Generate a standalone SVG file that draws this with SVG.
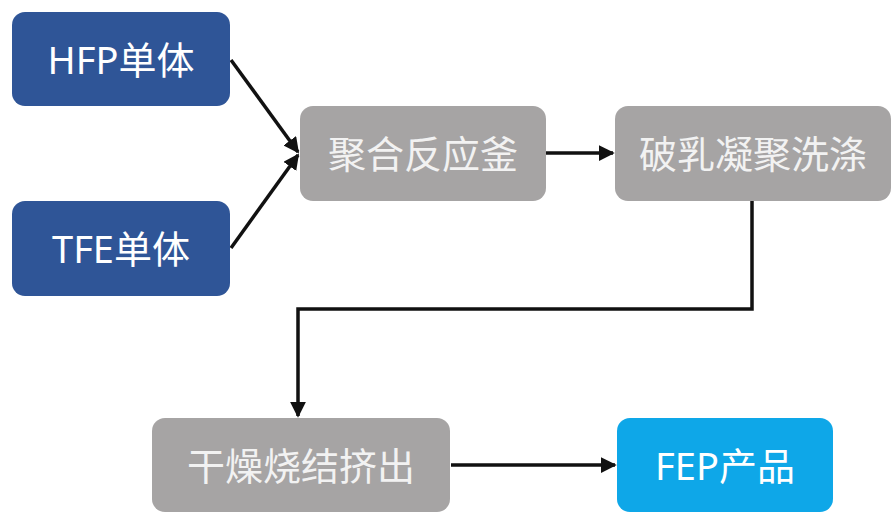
<svg xmlns="http://www.w3.org/2000/svg" width="894" height="514" viewBox="0 0 894 514">
<style>
.blue{fill:#2F5597}
.gray{fill:#A6A4A4}
.cyan{fill:#0EA7E8}
.t{font-family:"Noto Sans","Noto Sans CJK SC",sans-serif;font-size:38px;text-anchor:middle;dominant-baseline:central}
.tw{fill:#ffffff}
.tg{fill:#F2F2F2}
.c{stroke:#111;stroke-width:3.5;fill:none;marker-end:url(#ah)}
</style>
<defs>
<marker id="ah" markerWidth="4.5" markerHeight="4.5" refX="4" refY="2.25" orient="auto" markerUnits="strokeWidth">
<path d="M0,0 L4.5,2.25 L0,4.5 z" fill="#111"/>
</marker>
</defs>
<rect width="894" height="514" fill="#ffffff"/>
<g id="connectors">
<line class="c" x1="231" y1="60" x2="298" y2="152"/>
<line class="c" x1="231" y1="248" x2="298" y2="155"/>
<line class="c" x1="546" y1="153" x2="613" y2="153"/>
<polyline class="c" points="752,201 752,309 298,309 298,416"/>
<line class="c" x1="451" y1="465" x2="615" y2="465"/>
</g>
<g id="hfp">
<rect class="blue" x="12" y="12" width="218" height="94" rx="13"/>
<text class="t tw" x="121" y="59">HFP单体</text>
</g>
<g id="tfe">
<rect class="blue" x="12" y="201" width="218" height="95" rx="13"/>
<text class="t tw" x="121" y="248">TFE单体</text>
</g>
<g id="reactor">
<rect class="gray" x="300" y="106" width="246" height="95" rx="13"/>
<text class="t tg" x="423" y="153">聚合反应釜</text>
</g>
<g id="wash">
<rect class="gray" x="615" y="106" width="276" height="95" rx="13"/>
<text class="t tg" x="753" y="153">破乳凝聚洗涤</text>
</g>
<g id="dry">
<rect class="gray" x="152" y="418" width="298" height="94" rx="13"/>
<text class="t tg" x="301" y="465">干燥烧结挤出</text>
</g>
<g id="fep">
<rect class="cyan" x="617" y="418" width="216" height="94" rx="13"/>
<text class="t tw" x="725" y="465">FEP产品</text>
</g>
</svg>
